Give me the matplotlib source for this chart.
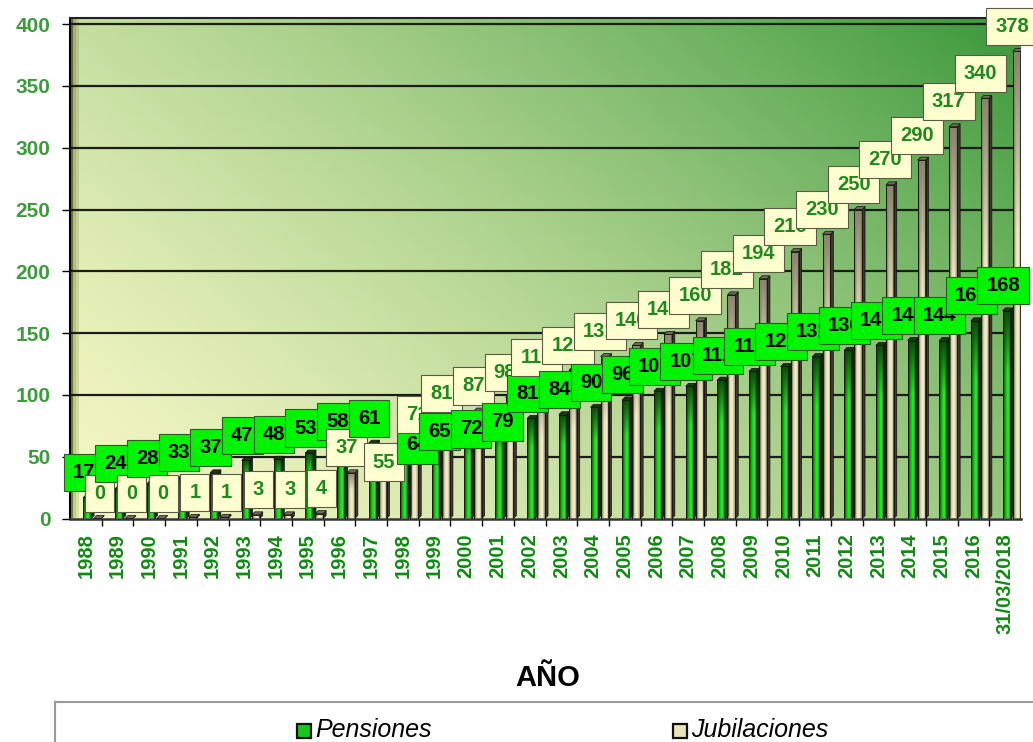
import numpy as np
import matplotlib
matplotlib.use("Agg")
import matplotlib.pyplot as plt
from matplotlib.colors import LinearSegmentedColormap, to_rgb
from matplotlib.patches import Polygon, Rectangle
from matplotlib.lines import Line2D

plt.rcParams['font.family'] = ['Liberation Sans', 'DejaVu Sans']

years = ['1988', '1989', '1990', '1991', '1992', '1993', '1994', '1995', '1996',
         '1997', '1998', '1999', '2000', '2001', '2002', '2003', '2004', '2005',
         '2006', '2007', '2008', '2009', '2010', '2011', '2012', '2013', '2014',
         '2015', '2016', '31/03/2018']
pensiones = [17, 24, 28, 33, 37, 47, 48, 53, 58, 61, 64, 65, 72, 79, 81, 84, 90,
             96, 103, 107, 112, 119, 123, 131, 136, 140, 144, 144, 160, 168]
jubilaciones = [0, 0, 0, 1, 1, 3, 3, 4, 37, 55, 71, 81, 87, 98, 110, 120, 131,
                140, 149, 160, 181, 194, 216, 230, 250, 270, 290, 317, 340, 378]
yticks = [0, 50, 100, 150, 200, 250, 300, 350, 400]

# labels that were dragged by hand in the original (points)
nudge_pen = {'1998': (12, -22), '1999': (5, -13), '2000': (5, -17.6), '2001': (5, -18.8)}
nudge_jub = {'1997': (4.3, -26.3), '1998': (5.5, -6)}

fig = plt.figure(figsize=(10.33, 7.42), dpi=100)
ax = fig.add_axes([70 / 1033, 1 - 518.5 / 742, 951 / 1033, 500.5 / 742])
ax.set_xlim(-0.5, len(years) - 0.5)
ax.set_ylim(0, 405)

# background gradient, pale yellow bottom-left to green top-right
pale = np.array(to_rgb('#f5f7c4'))
green = np.array(to_rgb('#3a983a'))
gx, gy = np.meshgrid(np.linspace(0, 1, 200), np.linspace(1, 0, 150))
t = (0.62 * gx + 0.38 * gy) ** 1.4
bg = pale[None, None, :] + t[:, :, None] * (green - pale)[None, None, :]
ax.imshow(bg, extent=[0, 1, 0, 1], transform=ax.transAxes, aspect='auto', zorder=0)

# left wall
wall_row = np.array([to_rgb('#6f7d40'), to_rgb('#c2cf88'), to_rgb('#dbe3a2')])
wall = wall_row[None, :, :] * np.linspace(0.85, 1.0, 60)[:, None, None]
ax.imshow(wall, extent=[-0.5, -0.24, 0, 405], aspect='auto', zorder=0.5)

for v in yticks[1:]:
    ax.axhline(v, color='#1c1c1c', lw=1.6, zorder=1)


def bar_image(colors, top_col, n_rows=60, fade=0.4):
    cmap = LinearSegmentedColormap.from_list('b', colors)
    row = cmap(np.linspace(0, 1, 14))[:, :3]
    f = np.clip(np.linspace(0, 1, n_rows) / fade, 0, 1)[:, None, None]
    return row[None, :, :] * f + np.array(to_rgb(top_col))[None, None, :] * (1 - f)


g_img = bar_image(['#053a08', '#12c012', '#34ee34', '#0c7a0c'], '#0a4a0a', fade=0.3)
j_img = bar_image(['#4e4a38', '#e0dbb0', '#f8f4d2', '#aaa482'], '#8a8470', fade=0.4)

x = np.arange(len(years))
dx, dy = 0.09, 2.4
series = [(pensiones, -0.08, g_img, '#06300a', '#0f3f0f'),
          (jubilaciones, 0.24, j_img, '#3a3828', '#6e6a58')]
for vals, off, img, side_c, top_c in series:
    bars = ax.bar(x + off, vals, width=0.25, align='edge', facecolor='none',
                  edgecolor='#1a1a10', lw=0.7, zorder=3.2)
    for b in bars:
        x0, w, h = b.get_x(), b.get_width(), b.get_height()
        x1 = x0 + w
        if h > 0:
            im = ax.imshow(img, extent=[x0, x1, 0, h], origin='upper', aspect='auto', zorder=3)
            im.set_clip_path(b)
        ax.add_patch(Polygon([(x1, 0), (x1 + dx, dy), (x1 + dx, h + dy), (x1, h)],
                             closed=True, fc=side_c, ec='#111', lw=0.5, zorder=3.1))
        ax.add_patch(Polygon([(x0, h), (x1, h), (x1 + dx, h + dy), (x0 + dx, h + dy)],
                             closed=True, fc=top_c, ec='#111', lw=0.5, zorder=3.1))

ax.set_xlim(-0.5, len(years) - 0.5)
ax.set_ylim(0, 405)

# data labels, drawn category by category
for i, yr in enumerate(years):
    p, j = pensiones[i], jubilaciones[i]
    ndx, ndy = nudge_pen.get(yr, (0, 0))
    ax.annotate(str(p), xy=(i, p), xytext=(-1.5 + ndx, 18 + ndy), textcoords='offset points',
                ha='center', va='center', fontsize=14.5, fontweight='bold', color='black',
                bbox=dict(boxstyle='square,pad=0.45', fc='#00f400', ec='#2c5a2c', lw=0.8),
                zorder=10 + 2 * i)
    jdx = 10 if j < 10 else 5
    ndx, ndy = nudge_jub.get(yr, (0, 0))
    ax.annotate(str(j), xy=(i, j), xytext=(jdx + ndx, 18 + ndy), textcoords='offset points',
                ha='center', va='center', fontsize=14.5, fontweight='bold', color='#1e8a1e',
                bbox=dict(boxstyle='square,pad=0.45', fc='#ffffcf', ec='#5a5a48', lw=0.8),
                zorder=11 + 2 * i)

ax.set_yticks(yticks)
ax.set_yticklabels([str(v) for v in yticks], fontsize=15, fontweight='bold', color='#3c9c3c')
ax.tick_params(axis='y', length=6, width=1, pad=8)
ax.set_xticks(x)
ax.set_xticklabels(years, rotation=90, fontsize=14.5, fontweight='bold', color='#128a12', va='top')
ax.tick_params(axis='x', which='major', length=0, pad=10.5)
ax.set_xticks(x[:-1] + 0.5, minor=True)
ax.tick_params(axis='x', which='minor', length=5, width=1)

ax.spines['right'].set_visible(False)
ax.spines['top'].set_color('#222')
ax.spines['top'].set_linewidth(1.5)
ax.spines['left'].set_linewidth(1.5)
ax.spines['bottom'].set_linewidth(1.8)
ax.spines['bottom'].set_color('#333')

fig.text(548 / 1033, 1 - 678 / 742, 'AÑO', ha='center', va='center',
         fontsize=21, fontweight='bold', color='black')

# legend frame (partly outside the picture)
fig.add_artist(Line2D([55 / 1033, 1], [1 - 702 / 742] * 2, transform=fig.transFigure,
                      color='#9a9a9a', lw=1.5))
fig.add_artist(Line2D([55 / 1033] * 2, [0, 1 - 702 / 742], transform=fig.transFigure,
                      color='#9a9a9a', lw=1.5))
for mx, col, name in [(297, '#18c818', 'Pensiones'), (673, '#e8e4bc', 'Jubilaciones')]:
    fig.add_artist(Rectangle((mx / 1033, 1 - 738 / 742), 14 / 1033, 14 / 742,
                             transform=fig.transFigure, fc=col, ec='#111', lw=1.6))
    fig.text((mx + 18) / 1033, 1 - 730 / 742, name, ha='left', va='center',
             fontsize=18, fontstyle='italic', color='black')

fig.savefig('out.png', dpi=100)
